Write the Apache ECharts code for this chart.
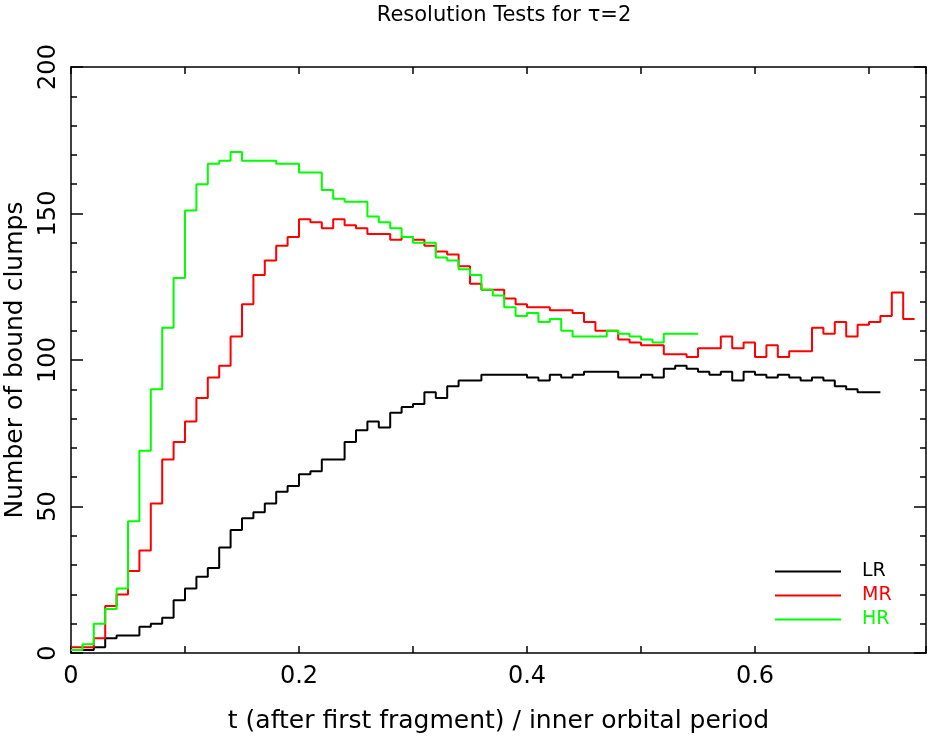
<!DOCTYPE html>
<html>
<head>
<meta charset="utf-8">
<script src="https://cdn.jsdelivr.net/npm/echarts@6/dist/echarts.min.js"></script>
<style>
  html, body { margin: 0; padding: 0; background: #fff; }
  #chart { width: 928px; height: 738px; }
</style>
</head>
<body>
<div id="chart"></div>
<script>
// histogram bin width (inner orbital periods)
var binWidth = 0.01;

// bound clumps per bin
var lrCounts = [1, 1, 2, 5, 6, 6, 9, 10, 12, 18,
  22, 26, 29, 36, 42, 46, 48, 51, 55, 57,
  61, 62, 66, 66, 72, 76, 79, 77, 82, 84,
  85, 89, 87, 91, 93, 93, 95, 95, 95, 95,
  94, 93, 95, 94, 95, 96, 96, 96, 94, 94,
  95, 94, 97, 98, 97, 96, 95, 96, 93, 96,
  95, 94, 95, 94, 93, 94, 93, 91, 90, 89, 89];
var mrCounts = [2, 2, 5, 16, 20, 28, 35, 51, 66, 72,
  79, 87, 94, 98, 108, 119, 129, 134, 139, 142,
  148, 147, 145, 148, 146, 145, 143, 143, 141, 142,
  141, 139, 137, 136, 132, 126, 124, 124, 121, 119,
  118, 118, 117, 117, 116, 113, 110, 110, 107, 106,
  105, 105, 102, 102, 101, 104, 104, 108, 104, 106,
  101, 105, 101, 103, 103, 111, 109, 113, 108, 112,
  113, 115, 123, 114];
var hrCounts = [1, 3, 10, 15, 22, 45, 69, 90, 111, 128,
  151, 160, 167, 168, 171, 168, 168, 168, 167, 167,
  164, 164, 158, 155, 154, 154, 149, 147, 145, 142,
  140, 140, 135, 134, 131, 129, 124, 122, 118, 115,
  116, 113, 114, 110, 108, 108, 108, 110, 109, 108,
  107, 106, 109, 109, 109];

var seriesNames = ['LR', 'MR', 'HR'];
var seriesColors = ['#000000', '#ff0000', '#00ff00'];
var seriesData = [lrCounts, mrCounts, hrCounts];

var font = 'DejaVu Sans';

// bin left edges -> step points, last bin closed at its right edge
function toSteps(counts) {
  var pts = counts.map(function (v, i) {
    return [+(i * binWidth).toFixed(2), v];
  });
  pts.push([+(counts.length * binWidth).toFixed(2), counts[counts.length - 1]]);
  return pts;
}

function xLabel(v) {
  var k = Math.round(v * 10);
  if (v > 0.7 || k % 2 !== 0) return '';
  return k === 0 ? '0' : (k / 10).toFixed(1);
}

var axisLine = { show: true, onZero: false, lineStyle: { color: '#000', width: 1.5 } };

function xAxisDef(pos, withLabels) {
  return {
    type: 'value', position: pos, min: 0, max: 0.75, interval: 0.1,
    axisLine: axisLine,
    axisTick: { show: true, inside: true, length: 7, lineStyle: { color: '#000', width: 1.5 } },
    splitLine: { show: false },
    axisLabel: {
      show: withLabels, formatter: xLabel, margin: 12,
      color: '#000', fontFamily: font, fontSize: 24
    },
    name: withLabels ? 't (after first fragment) / inner orbital period' : '',
    nameLocation: 'middle', nameGap: 56,
    nameTextStyle: { color: '#000', fontFamily: font, fontSize: 25 }
  };
}

function yAxisDef(pos, withLabels) {
  return {
    type: 'value', position: pos, min: 0, max: 200, interval: 50,
    axisLine: axisLine,
    axisTick: { show: true, inside: true, length: 12, lineStyle: { color: '#000', width: 1.5 } },
    minorTick: { show: true, splitNumber: 5, length: 6, lineStyle: { color: '#000', width: 1.5 } },
    splitLine: { show: false },
    minorSplitLine: { show: false },
    axisLabel: {
      show: withLabels, rotate: 90, margin: 10,
      color: '#000', fontFamily: font, fontSize: 24
    },
    name: withLabels ? 'Number of bound clumps' : '',
    nameLocation: 'middle', nameRotate: 90, nameGap: 43,
    nameTextStyle: { color: '#000', fontFamily: font, fontSize: 25 }
  };
}

var chart = echarts.init(document.getElementById('chart'), null, { renderer: 'canvas' });

var option = {
  animation: false,
  backgroundColor: '#fff',
  title: {
    text: 'Resolution Tests for \u03c4=2',
    left: 499, top: 0, textAlign: 'center',
    textStyle: { color: '#000', fontFamily: font, fontSize: 21, fontWeight: 'normal' }
  },
  grid: { left: 71, right: 2, top: 67, bottom: 85, outerBoundsMode: 'none' },
  xAxis: [xAxisDef('bottom', true), xAxisDef('top', false)],
  yAxis: [yAxisDef('left', true), yAxisDef('right', false)],
  legend: {
    orient: 'vertical', left: 770, top: 557,
    itemWidth: 66, itemHeight: 2, itemGap: 5, icon: 'rect',
    textStyle: { fontFamily: font, fontSize: 19, padding: [0, 0, 0, 16] },
    data: seriesNames.map(function (n, i) {
      return { name: n, textStyle: { color: seriesColors[i] } };
    })
  },
  series: seriesNames.map(function (n, i) {
    return {
      name: n, type: 'line', step: 'end',
      xAxisIndex: 0, yAxisIndex: 0,
      showSymbol: false, symbol: 'none',
      color: seriesColors[i],
      lineStyle: { color: seriesColors[i], width: 2 },
      data: toSteps(seriesData[i])
    };
  })
};

chart.setOption(option);
</script>
</body>
</html>
